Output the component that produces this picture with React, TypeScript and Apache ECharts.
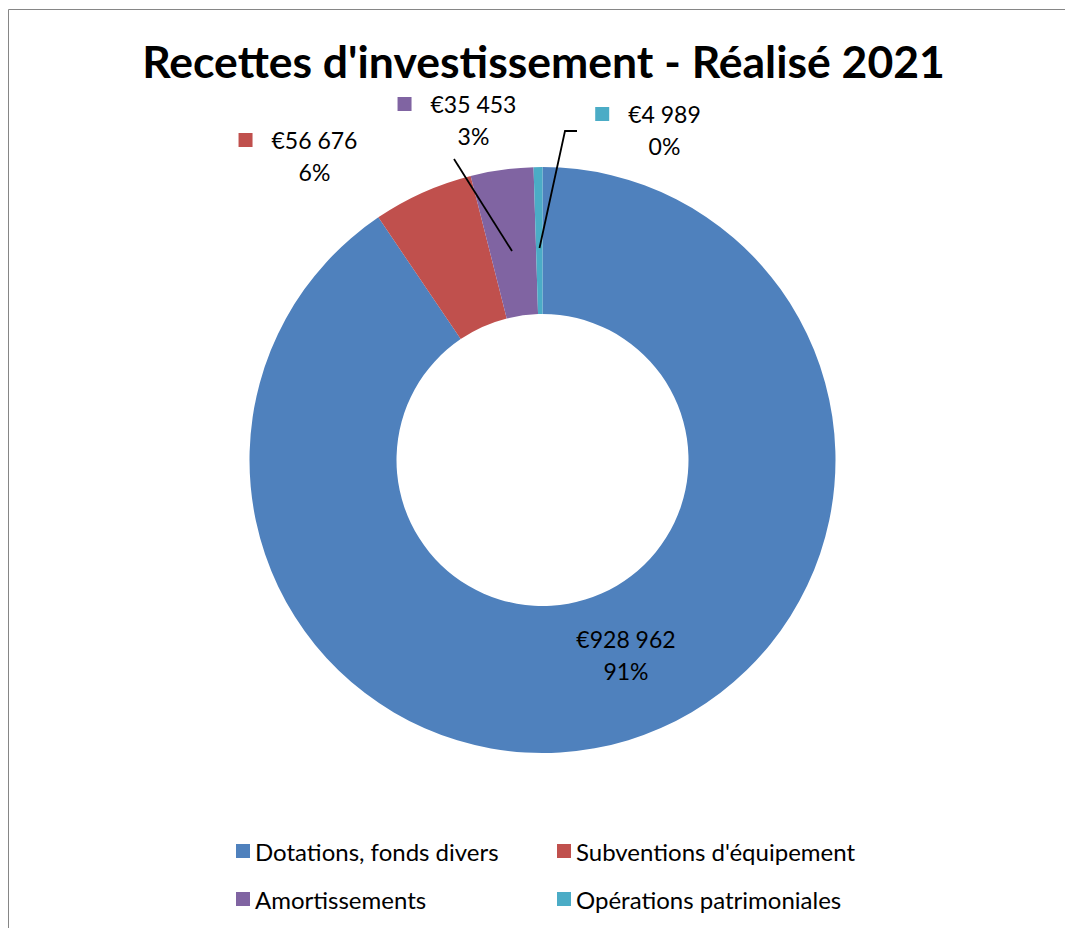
import React, { useEffect, useRef } from "react";
import * as echarts from "echarts";

const TITLE = "Recettes d'investissement - Réalisé 2021";
const categories = [
  "Dotations, fonds divers",
  "Subventions d'équipement",
  "Amortissements",
  "Opérations patrimoniales",
];
const values = [928962, 56676, 35453, 4989];
const colors = ["#4F81BD", "#C0504D", "#8064A2", "#4BACC6"];

// label layout (styling only)
const labelCenters = [
  [626, 655],
  [298, 156],
  [457, 120],
  [648, 130],
];
const leaderLines: (number[][] | null)[] = [
  null,
  null,
  [
    [454, 159],
    [512, 251],
  ],
  [
    [577, 131],
    [565, 131],
    [539.5, 248],
  ],
];

const FONT = "Lato";

function fmtEuro(v: number) {
  return "€" + String(v).replace(/\B(?=(\d{3})+(?!\d))/g, " ");
}

export default function App() {
  const ref = useRef<HTMLDivElement>(null);
  useEffect(() => {
    document.body.style.margin = "0";
    const chart = echarts.init(ref.current!, null, { renderer: "svg" });
    const total = values.reduce((a, b) => a + b, 0);
    const rich: any = {
      v: { fontSize: 23, fontFamily: FONT, color: "#000", lineHeight: 32 },
      p: { fontSize: 23, fontFamily: FONT, color: "#000", lineHeight: 32 },
      g: { width: 19, height: 14 },
      sp: { width: 33, height: 14 },
    };
    colors.forEach((c, i) => {
      rich["sq" + i] = { width: 14, height: 14, backgroundColor: c };
    });
    const data = categories.map((name, i) => ({
      name,
      value: values[i],
      itemStyle: { color: colors[i] },
    }));
    const lines = leaderLines
      .filter((l) => !!l)
      .map((pts) => ({
        type: "polyline",
        shape: { points: pts },
        style: { stroke: "#000", lineWidth: 1.8, fill: "none" },
        silent: true,
        z: 10,
      }));
    const legendText = {
      fontFamily: FONT,
      fontSize: 24,
      color: "#000",
      lineHeight: 24,
      padding: [0, 0, 0, 0],
    };
    chart.setOption({
      animation: false,
      backgroundColor: "#fff",
      title: {
        text: TITLE,
        left: 538.5,
        textAlign: "center",
        top: 33,
        textStyle: {
          fontFamily: FONT,
          fontWeight: "bold",
          fontSize: 44.5,
          color: "#000",
        },
      },
      graphic: [
        {
          type: "rect",
          shape: { x: 8.5, y: 9.5, width: 1200, height: 1000 },
          style: { fill: "none", stroke: "#868686", lineWidth: 1 },
          silent: true,
        },
        ...lines,
      ],
      legend: [
        {
          data: [categories[0], categories[2]],
          orient: "vertical",
          left: 231,
          top: 834,
          icon: "rect",
          itemWidth: 14,
          itemHeight: 14,
          itemGap: 24,
          textStyle: legendText,
        },
        {
          data: [categories[1], categories[3]],
          orient: "vertical",
          left: 552,
          top: 834,
          icon: "rect",
          itemWidth: 14,
          itemHeight: 14,
          itemGap: 24,
          textStyle: legendText,
        },
      ],
      series: [
        {
          type: "pie",
          center: [542.5, 460],
          radius: [146, 293],
          startAngle: 90,
          clockwise: true,
          avoidLabelOverlap: false,
          data,
          label: {
            show: true,
            position: "outside",
            align: "center",
            formatter: (p: any) => {
              const i = p.dataIndex;
              const pct = Math.round((values[i] / total) * 100) + "%";
              if (i === 0) return `{v|${fmtEuro(values[i])}}\n{p|${pct}}`;
              return `{sq${i}|}{g|}{v|${fmtEuro(values[i])}}\n{sp|}{p|${pct}}`;
            },
            rich,
          },
          labelLine: { show: false },
          labelLayout: (params: any) => {
            const i = params.dataIndex;
            return {
              x: labelCenters[i][0],
              y: labelCenters[i][1],
              align: "center",
              verticalAlign: "middle",
            };
          },
        },
      ],
    });
    return () => chart.dispose();
  }, []);
  return <div ref={ref} style={{ width: 1065, height: 928 }} />;
}
